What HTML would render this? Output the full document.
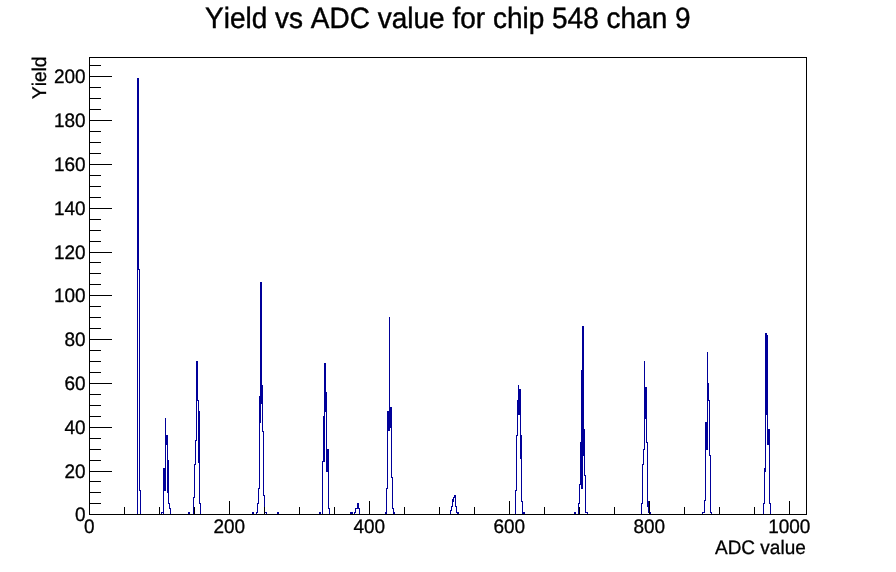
<!DOCTYPE html>
<html lang="en">
<head>
<meta charset="utf-8">
<title>Yield vs ADC value for chip 548 chan 9</title>
<style>
html,body{margin:0;padding:0;background:#fff;}
body{width:896px;height:572px;overflow:hidden;}
svg{display:block;will-change:transform;font-family:"Liberation Sans",Arial,Helvetica,sans-serif;fill:#000;font-kerning:none;text-rendering:geometricPrecision;}
.lab text{font-size:19.0px;stroke:#000;stroke-width:0.3px;}
.ttl{stroke:#000;stroke-width:0.4px;}
</style>
</head>
<body>
<svg width="896" height="572" viewBox="0 0 896 572">
<rect x="0" y="0" width="896" height="572" fill="#ffffff"/>
<path shape-rendering="crispEdges" fill="#000099" d="M137 78h1v437h-1zM138 78h1v192h-1zM139 269h1v222h-1zM140 490h1v25h-1zM161 512h1v3h-1zM162 512h1v1h-1zM163 468h1v47h-1zM164 468h1v23h-1zM165 418h1v73h-1zM166 435h1v10h-1zM167 435h1v58h-1zM168 460h1v44h-1zM169 503h1v6h-1zM170 508h1v7h-1zM188 512h2v3h-2zM193 497h1v18h-1zM194 464h1v34h-1zM195 440h1v25h-1zM196 361h1v80h-1zM197 361h1v40h-1zM198 400h1v63h-1zM199 411h1v93h-1zM200 503h1v12h-1zM252 512h2v3h-2zM256 512h1v3h-1zM257 503h1v10h-1zM258 488h1v16h-1zM259 396h1v93h-1zM260 282h1v141h-1zM261 282h1v122h-1zM262 385h1v47h-1zM263 431h1v65h-1zM264 495h1v20h-1zM265 512h2v1h-2zM266 512h1v3h-1zM277 512h2v3h-2zM319 512h2v3h-2zM322 461h1v54h-1zM323 416h1v46h-1zM324 363h1v99h-1zM325 363h1v49h-1zM326 392h1v80h-1zM327 449h1v23h-1zM328 449h1v60h-1zM329 508h1v7h-1zM350 512h3v3h-3zM354 512h1v3h-1zM355 508h1v5h-1zM356 508h1v1h-1zM357 503h2v6h-2zM359 508h1v7h-1zM385 512h1v3h-1zM386 488h1v27h-1zM387 411h1v78h-1zM388 411h1v20h-1zM389 317h1v114h-1zM390 407h1v21h-1zM391 407h1v71h-1zM392 477h1v32h-1zM393 508h1v7h-1zM394 512h1v3h-1zM450 510h1v5h-1zM451 506h1v5h-1zM452 499h1v8h-1zM453 497h1v5h-1zM454 495h1v3h-1zM455 495h1v12h-1zM456 506h1v7h-1zM457 512h2v3h-2zM515 490h1v25h-1zM516 435h1v56h-1zM517 400h1v36h-1zM518 385h1v30h-1zM519 389h1v26h-1zM520 389h1v70h-1zM521 435h1v67h-1zM522 501h1v14h-1zM523 512h2v3h-2zM574 512h2v3h-2zM578 503h1v12h-1zM579 484h1v20h-1zM580 442h1v43h-1zM581 370h1v119h-1zM582 326h1v163h-1zM583 326h1v130h-1zM584 429h1v47h-1zM585 475h1v38h-1zM586 512h2v1h-2zM587 512h1v3h-1zM641 503h1v12h-1zM642 464h1v40h-1zM643 449h1v16h-1zM644 361h1v89h-1zM645 387h1v32h-1zM646 387h1v56h-1zM647 442h1v65h-1zM648 501h1v12h-1zM650 512h1v3h-1zM702 512h1v3h-1zM703 512h1v1h-1zM704 500h1v13h-1zM705 422h1v79h-1zM706 422h1v28h-1zM707 352h1v98h-1zM708 383h1v18h-1zM709 400h1v56h-1zM710 455h1v58h-1zM711 512h1v3h-1zM763 503h1v12h-1zM764 468h1v36h-1zM765 333h1v139h-1zM766 333h1v82h-1zM767 335h1v110h-1zM768 429h1v16h-1zM769 429h1v75h-1zM770 503h1v12h-1z"/>
<path shape-rendering="crispEdges" fill="#000000" d="M89 57h718v1h-718zM89 514h718v1h-718zM89 57h1v458h-1zM806 57h1v458h-1zM89 501h1v14h-1zM124 507h1v8h-1zM159 507h1v8h-1zM194 507h1v8h-1zM229 501h1v14h-1zM264 507h1v8h-1zM299 507h1v8h-1zM334 507h1v8h-1zM369 501h1v14h-1zM404 507h1v8h-1zM439 507h1v8h-1zM474 507h1v8h-1zM509 501h1v14h-1zM544 507h1v8h-1zM579 507h1v8h-1zM614 507h1v8h-1zM649 501h1v14h-1zM684 507h1v8h-1zM719 507h1v8h-1zM754 507h1v8h-1zM789 501h1v14h-1zM89 514h23v1h-23zM89 503h12v1h-12zM89 492h12v1h-12zM89 481h12v1h-12zM89 471h23v1h-23zM89 460h12v1h-12zM89 449h12v1h-12zM89 438h12v1h-12zM89 427h23v1h-23zM89 416h12v1h-12zM89 405h12v1h-12zM89 394h12v1h-12zM89 383h23v1h-23zM89 372h12v1h-12zM89 361h12v1h-12zM89 350h12v1h-12zM89 339h23v1h-23zM89 328h12v1h-12zM89 317h12v1h-12zM89 306h12v1h-12zM89 295h23v1h-23zM89 284h12v1h-12zM89 273h12v1h-12zM89 262h12v1h-12zM89 252h23v1h-23zM89 241h12v1h-12zM89 230h12v1h-12zM89 219h12v1h-12zM89 208h23v1h-23zM89 197h12v1h-12zM89 186h12v1h-12zM89 175h12v1h-12zM89 164h23v1h-23zM89 153h12v1h-12zM89 142h12v1h-12zM89 131h12v1h-12zM89 120h23v1h-23zM89 109h12v1h-12zM89 98h12v1h-12zM89 87h12v1h-12zM89 76h23v1h-23zM89 65h12v1h-12z"/>
<text transform="translate(447.8 28) scale(1 1.05)" text-anchor="middle" font-size="28.0" class="ttl">Yield vs ADC value for chip 548 chan 9</text>
<g class="lab">
<text transform="translate(89.3 533.4) scale(1 1.03)" text-anchor="middle">0</text>
<text transform="translate(229.3 533.4) scale(1 1.03)" text-anchor="middle">200</text>
<text transform="translate(369.3 533.4) scale(1 1.03)" text-anchor="middle">400</text>
<text transform="translate(509.3 533.4) scale(1 1.03)" text-anchor="middle">600</text>
<text transform="translate(649.3 533.4) scale(1 1.03)" text-anchor="middle">800</text>
<text transform="translate(789.3 533.4) scale(1 1.03)" text-anchor="middle">1000</text>
<text transform="translate(85.6 521.4) scale(1 1.03)" text-anchor="end">0</text>
<text transform="translate(85.6 477.6) scale(1 1.03)" text-anchor="end">20</text>
<text transform="translate(85.6 433.8) scale(1 1.03)" text-anchor="end">40</text>
<text transform="translate(85.6 390.0) scale(1 1.03)" text-anchor="end">60</text>
<text transform="translate(85.6 346.2) scale(1 1.03)" text-anchor="end">80</text>
<text transform="translate(85.6 302.4) scale(1 1.03)" text-anchor="end">100</text>
<text transform="translate(85.6 258.6) scale(1 1.03)" text-anchor="end">120</text>
<text transform="translate(85.6 214.8) scale(1 1.03)" text-anchor="end">140</text>
<text transform="translate(85.6 171.0) scale(1 1.03)" text-anchor="end">160</text>
<text transform="translate(85.6 127.2) scale(1 1.03)" text-anchor="end">180</text>
<text transform="translate(85.6 83.4) scale(1 1.03)" text-anchor="end">200</text>
<text transform="translate(805.8 554.0) scale(1 1.03)" text-anchor="end">ADC value</text>
<text transform="translate(46.4 56.5) rotate(-90) scale(1 1.03)" text-anchor="end" style="font-size:19.2px">Yield</text>
</g>
</svg>
</body>
</html>
